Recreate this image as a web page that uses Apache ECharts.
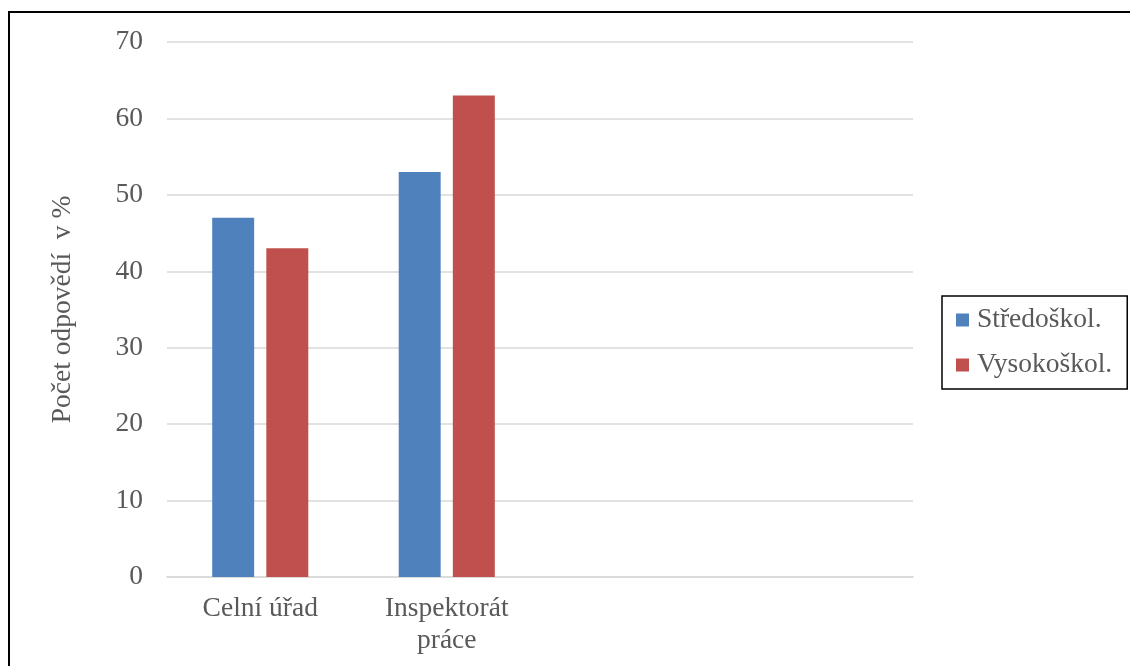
<!DOCTYPE html>
<html>
<head>
<meta charset="utf-8">
<script src="https://cdn.jsdelivr.net/npm/echarts@6/dist/echarts.min.js"></script>
<style>
  html, body { margin: 0; padding: 0; background: #fff; }
  #chart { width: 1130px; height: 666px; }
</style>
</head>
<body>
<div id="chart"></div>
<script>
// Categories (two empty slots keep the bars in the left half of the plot)
const categories = ['Celní úřad', 'Inspektorát práce', '', ''];
const seriesNames = ['Středoškol.', 'Vysokoškol.'];
const stredoskol = [47, 53, null, null];
const vysokoskol = [43, 63, null, null];
const yTicks = { min: 0, max: 70, interval: 10 };

const font = '"Liberation Serif", "Times New Roman", serif';
const fontSize = 27.5;
const textColor = '#595959';
const gridColor = '#d9d9d9';

// Long category names wrap onto two lines
const wrapLabel = (v) => (v.length > 12 ? v.replace(' ', '\n') : v);

const chart = echarts.init(document.getElementById('chart'));
chart.setOption({
  animation: false,
  backgroundColor: '#fff',
  graphic: [{
    type: 'rect',
    shape: { x: 9, y: 12, width: 1300, height: 900 },
    style: { fill: 'none', stroke: '#000', lineWidth: 2 },
    silent: true
  }],
  grid: { left: 167, right: 217, top: 42, bottom: 89 },
  legend: {
    orient: 'vertical',
    left: 942,
    top: 296,
    data: seriesNames,
    icon: 'rect',
    itemWidth: 13,
    itemHeight: 13,
    itemGap: 17,
    padding: [10, 15, 10, 14],
    borderColor: '#000',
    borderWidth: 1.5,
    textStyle: { fontFamily: font, fontSize: fontSize, color: textColor, lineHeight: 28, padding: [0, 0, 0, 3] }
  },
  xAxis: {
    type: 'category',
    data: categories,
    axisLine: { lineStyle: { color: gridColor, width: 1.5 } },
    axisTick: { show: false },
    axisLabel: {
      fontFamily: font, fontSize: fontSize, color: textColor,
      margin: 16, lineHeight: 32, interval: 0,
      formatter: wrapLabel
    }
  },
  yAxis: {
    type: 'value',
    min: yTicks.min, max: yTicks.max, interval: yTicks.interval,
    name: 'Počet odpovědí  v %',
    nameLocation: 'middle',
    nameGap: 90,
    nameTextStyle: { fontFamily: font, fontSize: fontSize, color: textColor },
    axisLine: { show: false },
    axisTick: { show: false },
    axisLabel: { fontFamily: font, fontSize: fontSize, color: textColor, margin: 24 },
    splitLine: { lineStyle: { color: gridColor, width: 1.5 } }
  },
  series: [
    {
      name: seriesNames[0], type: 'bar', data: stredoskol,
      barWidth: '22.5%', barGap: '29%',
      itemStyle: { color: '#4F81BD' }
    },
    {
      name: seriesNames[1], type: 'bar', data: vysokoskol,
      barWidth: '22.5%', barGap: '29%',
      itemStyle: { color: '#C0504D' }
    }
  ]
});
</script>
</body>
</html>
